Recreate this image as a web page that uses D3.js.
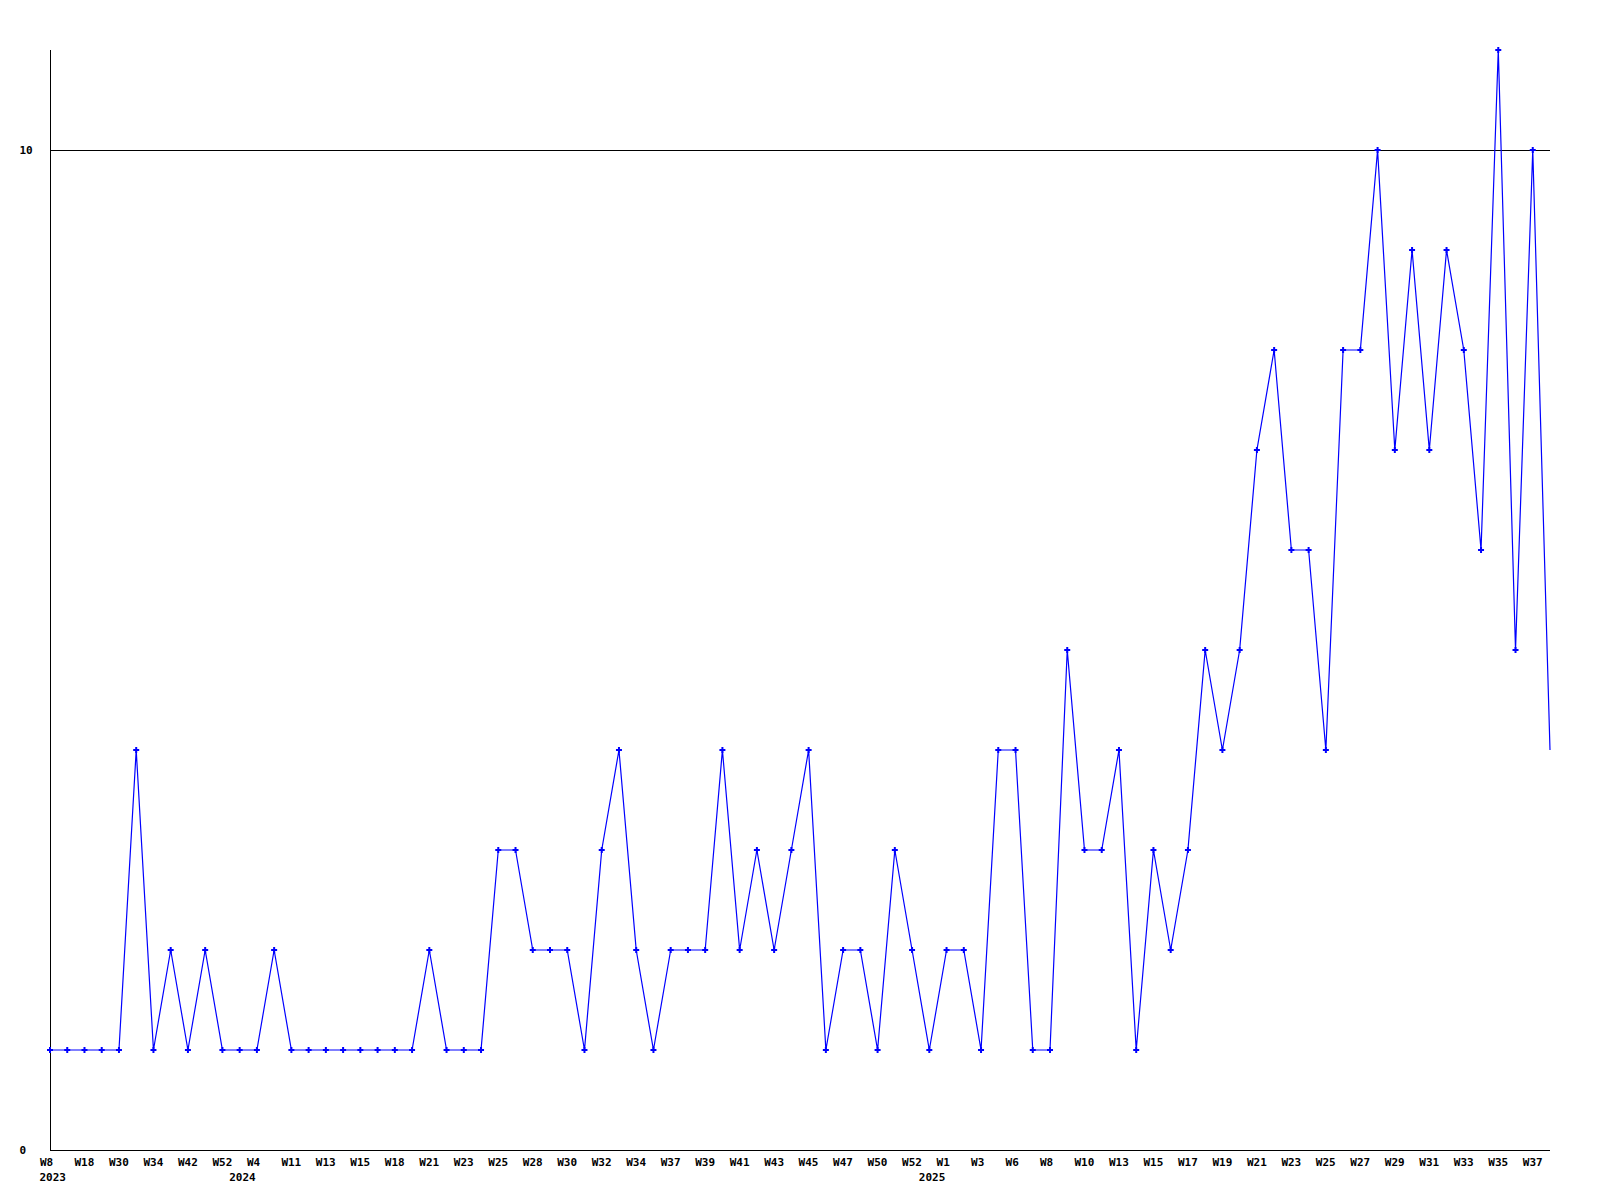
<!DOCTYPE html>
<html>
<head>
<meta charset="utf-8">
<script src="https://cdn.jsdelivr.net/npm/d3@7"></script>
<style>
  html, body { margin: 0; padding: 0; background: #fff; }
  svg { display: block; }
  text { font-family: "DejaVu Sans Mono", "Liberation Mono", monospace; font-weight: bold; font-size: 11px; fill: #000; }
</style>
</head>
<body>
<svg id="chart" width="1600" height="1200"></svg>
<script>
// ---- data ----
const weeks = ["W8","W13","W18","W25","W30","W32","W34","W38","W42","W47",
  "W52","W0","W4","W8","W11","W12","W13","W14","W15","W17",
  "W18","W20","W21","W22","W23","W24","W25","W27","W28","W29",
  "W30","W31","W32","W33","W34","W36","W37","W38","W39","W40",
  "W41","W42","W43","W44","W45","W46","W47","W49","W50","W51",
  "W52","W0","W1","W2","W3","W5","W6","W7","W8","W9",
  "W10","W12","W13","W14","W15","W16","W17","W18","W19","W20",
  "W21","W22","W23","W24","W25","W26","W27","W28","W29","W30",
  "W31","W32","W33","W34","W35","W36","W37","W38"];
const yearCounts = [["2023", 11], ["2024", 40], ["2025", 37]];
const values = [1,1,1,1,1,4,1,2,1,2,
  1,1,1,2,1,1,1,1,1,1,
  1,1,2,1,1,1,3,3,2,2,
  2,1,3,4,2,1,2,2,2,4,
  2,3,2,3,4,1,2,2,1,3,
  2,1,2,2,1,4,4,1,1,5,
  3,3,4,1,3,2,3,5,4,5,
  7,8,6,6,4,8,8,10,7,9,
  7,9,8,6,11,5,10,4];
const yTicks = [0, 10];

// ---- build ----
const years = [];
yearCounts.forEach(([yr, n]) => { for (let i = 0; i < n; i++) years.push(yr); });
const cats = weeks.map((w, i) => years[i] + "-" + w + "-" + i);
const data = cats.map((c, i) => ({ cat: c, week: weeks[i], year: years[i], value: values[i], i }));

const svg = d3.select("#chart");
const mLeft = 50, mRight = 1550, mTop = 50, mBottom = 1150;

const x = d3.scalePoint().domain(cats).range([mLeft, mRight]);
const y = d3.scaleLinear().domain([0, 11]).range([mBottom, mTop]);

// grid line at 10
svg.append("g").selectAll("line").data(yTicks.filter(t => t > 0)).join("line")
  .attr("x1", mLeft).attr("x2", mRight)
  .attr("y1", d => y(d)).attr("y2", d => y(d))
  .attr("stroke", "#000").attr("stroke-width", 1).attr("shape-rendering", "crispEdges");

// y labels
svg.append("g").selectAll("text").data(yTicks).join("text")
  .attr("x", 19.5).attr("y", d => y(d) + 4)
  .text(d => d);

// axes lines
svg.append("line").attr("x1", mLeft).attr("x2", mLeft).attr("y1", mTop).attr("y2", mBottom)
  .attr("stroke", "#000").attr("shape-rendering", "crispEdges");
svg.append("line").attr("x1", mLeft).attr("x2", mRight).attr("y1", mBottom).attr("y2", mBottom)
  .attr("stroke", "#000").attr("shape-rendering", "crispEdges");

// x axis tick labels
const xAxis = d3.axisBottom(x)
  .tickValues(cats.filter((c, i) => i % 2 === 0))
  .tickSize(0).tickSizeOuter(0)
  .tickFormat(c => weeks[cats.indexOf(c)]);
const gx = svg.append("g").attr("transform", `translate(0,${mBottom})`).call(xAxis);
gx.select(".domain").remove();
gx.attr("font-family", null).attr("font-size", null);
gx.selectAll("text")
  .attr("text-anchor", "start")
  .attr("x", -10.5).attr("y", 16).attr("dy", null)
  .attr("fill", "#000");

// year labels
const firstOfYear = data.filter((d, i) => i === 0 || years[i - 1] !== d.year);
svg.append("g").selectAll("text").data(firstOfYear).join("text")
  .attr("x", d => x(d.cat) - 10.5)
  .attr("y", mBottom + 31)
  .text(d => d.year);

// line
const line = d3.line().x(d => x(d.cat)).y(d => y(d.value));
svg.append("path").datum(data)
  .attr("d", line)
  .attr("fill", "none")
  .attr("stroke", "#0000ff")
  .attr("stroke-width", 1.2);

// markers (not on the last, incomplete point)
svg.append("g").selectAll("path").data(data.slice(0, -1)).join("path")
  .attr("d", d3.symbol(d3.symbolCross, 20))
  .attr("transform", d => `translate(${x(d.cat)},${y(d.value)})`)
  .attr("fill", "#0000ff");
</script>
</body>
</html>
